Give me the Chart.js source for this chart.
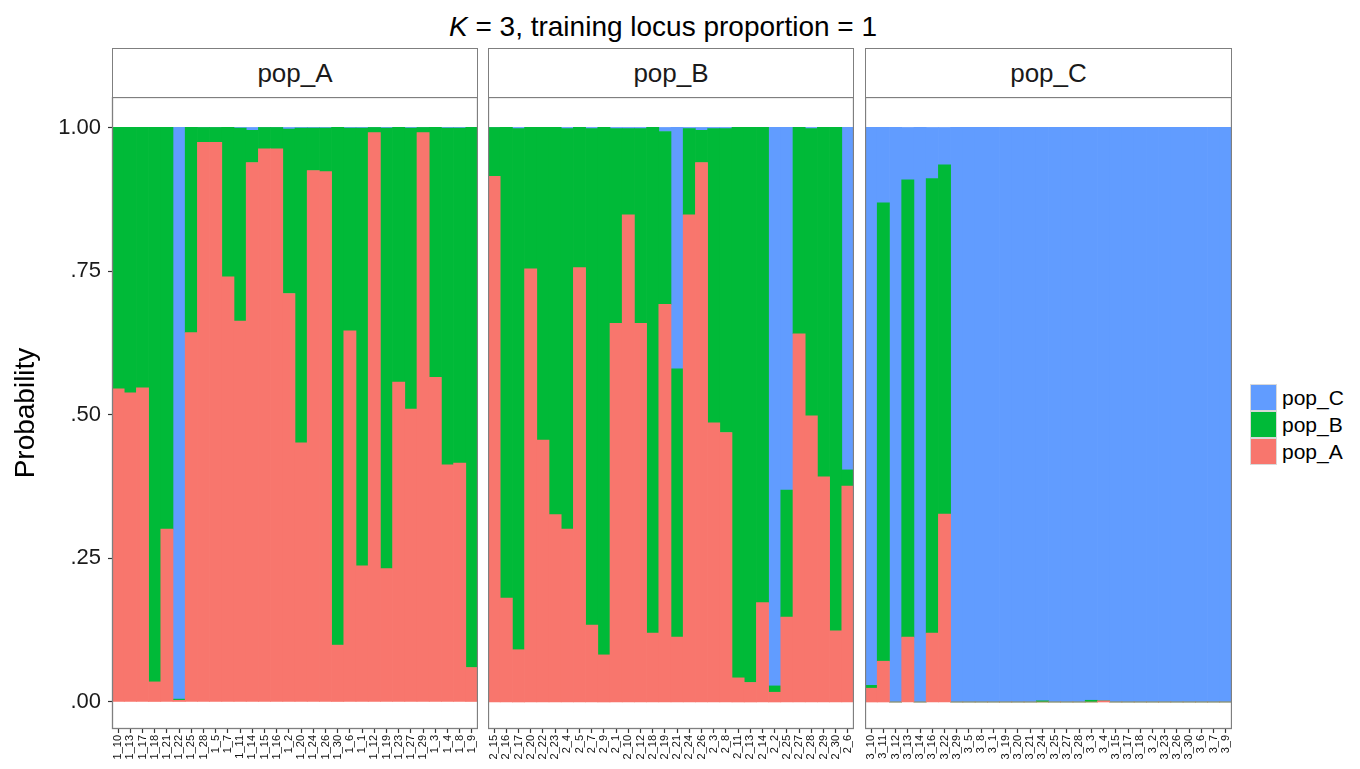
<!DOCTYPE html>
<html>
<head>
<meta charset="utf-8">
<script src="https://cdn.jsdelivr.net/npm/chart.js@4"></script>
<style>
  body { margin: 0; background: #fff; font-family: "Liberation Sans", Arial, sans-serif; }
  #wrap { position: relative; width: 1360px; height: 769px; overflow: hidden; }
  canvas { position: absolute; top: 97px; }
  .title { position: absolute; top: 13px; left: 0; width: 1326px; text-align: center; font-size: 28px; line-height: 1; color: #000; }
  .strip { position: absolute; top: 48px; height: 49px; box-sizing: border-box; border: 1px solid #7f7f7f; border-bottom: none;
           display: flex; align-items: center; justify-content: center; font-size: 26px; color: #1a1a1a; }
  .key { position: absolute; left: 1250px; width: 27px; height: 27px; box-sizing: border-box; border: 1px solid #d9d9d9; }
  .keytxt { position: absolute; left: 1282px; font-size: 21px; line-height: 27px; color: #000; }
</style>
</head>
<body>
<div id="wrap">
  <div class="title"><i>K</i> = 3, training locus proportion = 1</div>
  <div class="strip" style="left:112px;width:366px">pop_A</div>
  <div class="strip" style="left:488px;width:366px">pop_B</div>
  <div class="strip" style="left:865px;width:367px">pop_C</div>
  <canvas id="cA" width="478" height="672" style="left:0px"></canvas>
  <canvas id="cB" width="366" height="672" style="left:488px"></canvas>
  <canvas id="cC" width="367" height="672" style="left:865px"></canvas>
  <div class="key" style="top:384px;background:#619CFF"></div>
  <div class="key" style="top:411px;background:#00BA38"></div>
  <div class="key" style="top:438px;background:#F8766D"></div>
  <div class="keytxt" style="top:384px">pop_C</div>
  <div class="keytxt" style="top:411px">pop_B</div>
  <div class="keytxt" style="top:438px">pop_A</div>
</div>
<script>
// ---- data ----
const seriesNames = ["pop_A", "pop_B", "pop_C"];
const colors = ["#F8766D", "#00BA38", "#619CFF"];

const yTickValues = [0, 0.25, 0.5, 0.75, 1];
const yTickLabels = [".00", ".25", ".50", ".75", "1.00"];

const labelsA = ["1_10","1_13","1_17","1_18","1_21","1_22","1_25","1_28","1_5","1_7","1_11","1_14","1_15","1_16","1_2",
                 "1_20","1_24","1_26","1_30","1_6","1_1","1_12","1_19","1_23","1_27","1_29","1_3","1_4","1_8","1_9"];
const redA   = [0.545,0.538,0.547,0.035,0.301,0.003,0.643,0.974,0.974,0.740,0.663,0.939,0.963,0.963,0.711,
                0.451,0.925,0.923,0.099,0.646,0.237,0.991,0.232,0.557,0.510,0.991,0.565,0.413,0.416,0.060];
const greenA = [0.455,0.462,0.453,0.965,0.699,0.002,0.357,0.026,0.026,0.260,0.336,0.056,0.037,0.037,0.286,
                0.548,0.074,0.076,0.901,0.353,0.762,0.009,0.767,0.443,0.489,0.009,0.435,0.586,0.583,0.940];
const blueA  = [0,0,0,0,0,0.995,0,0,0,0,0.001,0.005,0,0,0.003,
                0.001,0.001,0.001,0,0.001,0.001,0,0.001,0,0.001,0,0,0.001,0.001,0];

const labelsB = ["2_15","2_16","2_17","2_20","2_22","2_23","2_4","2_5","2_7","2_9","2_1","2_10","2_12","2_18","2_19",
                 "2_21","2_24","2_26","2_3","2_8","2_11","2_13","2_14","2_2","2_25","2_27","2_28","2_29","2_30","2_6"];
const redB   = [0.915,0.181,0.091,0.754,0.456,0.326,0.301,0.756,0.134,0.082,0.659,0.848,0.659,0.120,0.692,
                0.113,0.848,0.939,0.486,0.469,0.042,0.034,0.173,0.017,0.148,0.641,0.498,0.392,0.124,0.376];
const greenB = [0.085,0.819,0.907,0.246,0.544,0.674,0.697,0.244,0.864,0.918,0.339,0.150,0.339,0.880,0.301,
                0.467,0.150,0.056,0.512,0.529,0.958,0.966,0.827,0.011,0.221,0.359,0.500,0.608,0.876,0.028];
const blueB  = [0,0,0.002,0,0,0,0.002,0,0.002,0,0.002,0.002,0.002,0,0.007,
                0.420,0.002,0.005,0.002,0.002,0,0,0,0.972,0.631,0,0.002,0,0,0.596];

const labelsC = ["3_10","3_11","3_12","3_13","3_14","3_16","3_22","3_29","3_5","3_8","3_1","3_19","3_20","3_21","3_24",
                 "3_25","3_27","3_28","3_3","3_4","3_15","3_17","3_18","3_2","3_23","3_26","3_30","3_6","3_7","3_9"];
const redC   = [0.024,0.071,0,0.113,0,0.120,0.327,0,0,0,0,0,0,0,0,
                0,0,0,0,0.002,0,0,0,0,0,0,0,0,0,0];
const greenC = [0.005,0.798,0,0.796,0,0.791,0.608,0,0,0,0,0,0,0,0.002,
                0,0,0,0.003,0,0,0,0,0,0,0,0,0,0,0];
const blueC  = [0.971,0.131,1,0.091,1,0.089,0.065,1,1,1,1,1,1,1,0.998,
                1,1,1,0.997,0.998,1,1,1,1,1,1,1,1,1,1];

// ---- panel border ----
const panelBorder = {
    id: "panelBorder",
    afterDatasetsDraw(chart) {
        const a = chart.chartArea;
        const ctx = chart.ctx;
        ctx.save();
        ctx.strokeStyle = "#7f7f7f";
        ctx.lineWidth = 1.3;
        ctx.strokeRect(a.left + 0.5, a.top + 0.5, a.right - a.left - 1, a.bottom - a.top - 1);
        ctx.restore();
    }
};

function noPad(s) {
    s.paddingLeft = 0;
    s.paddingRight = 0;
    s.paddingTop = 0;
    s.paddingBottom = 0;
}

function panel(id, labels, red, green, blue, showY) {
    const vals = [red, green, blue];
    new Chart(document.getElementById(id), {
        type: "bar",
        data: {
            labels: labels,
            datasets: vals.map((d, i) => ({
                label: seriesNames[i],
                data: d,
                backgroundColor: colors[i],
                borderWidth: 0,
                barPercentage: 1,
                categoryPercentage: 1
            }))
        },
        options: {
            responsive: false,
            animation: false,
            layout: { padding: 0, autoPadding: false },
            plugins: { legend: { display: false }, tooltip: { enabled: false } },
            scales: {
                x: {
                    stacked: true,
                    border: { display: false },
                    grid: { display: true, offset: false, drawOnChartArea: false, drawTicks: true,
                            tickLength: 4, tickColor: "#333", tickWidth: 1.2 },
                    ticks: { autoSkip: false, minRotation: 90, maxRotation: 90, padding: 2,
                             color: "#111", font: { family: "Liberation Sans", size: 11 } },
                    afterFit(s) { s.height = 40; noPad(s); }
                },
                y: {
                    stacked: true,
                    display: showY,
                    min: -0.047,
                    max: 1.053,
                    border: { display: false },
                    grid: { drawOnChartArea: false, drawTicks: true, tickLength: 4, tickColor: "#333", tickWidth: 1.2 },
                    afterBuildTicks(s) { s.ticks = yTickValues.map(v => ({ value: v })); },
                    ticks: {
                        padding: 7,
                        color: "#1a1a1a",
                        font: { family: "Liberation Sans", size: 22 },
                        callback: v => yTickLabels[yTickValues.indexOf(v)]
                    },
                    title: {
                        display: true,
                        text: "Probability",
                        color: "#000",
                        padding: { top: 9, bottom: 0 },
                        font: { family: "Liberation Sans", size: 28 }
                    },
                    afterFit(s) { s.width = showY ? 112 : 0; noPad(s); }
                }
            }
        },
        plugins: [panelBorder]
    });
}

panel("cA", labelsA, redA, greenA, blueA, true);
panel("cB", labelsB, redB, greenB, blueB, false);
panel("cC", labelsC, redC, greenC, blueC, false);
</script>
</body>
</html>
